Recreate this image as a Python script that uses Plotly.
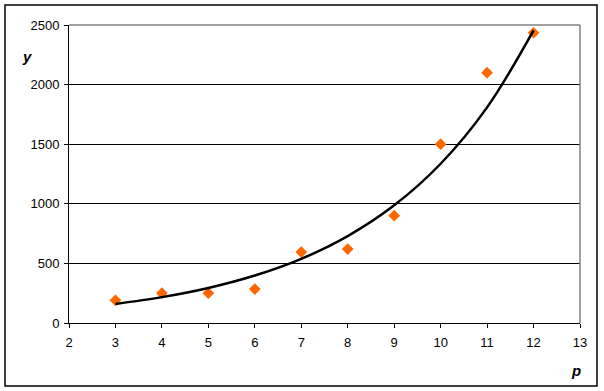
import plotly.graph_objects as go

# Data
p_values = [3, 4, 5, 6, 7, 8, 9, 10, 11, 12]
y_values = [190, 250, 250, 285, 595, 620, 900, 1500, 2100, 2435]
# Trend line values at each p
trend_values = [160, 217, 294, 398, 538, 729, 987, 1336, 1809, 2455]

x_ticks = [2, 3, 4, 5, 6, 7, 8, 9, 10, 11, 12, 13]
y_ticks = [0, 500, 1000, 1500, 2000, 2500]

FONT = "Liberation Sans, Arial, sans-serif"

fig = go.Figure()
fig.add_trace(go.Scatter(
    x=p_values, y=y_values, mode="markers",
    marker=dict(symbol="diamond", size=9, color="#FF6600", line=dict(width=0)),
    showlegend=False, hoverinfo="skip",
))
fig.add_trace(go.Scatter(
    x=p_values, y=trend_values, mode="lines",
    line=dict(color="black", width=2.5, shape="spline"),
    showlegend=False, hoverinfo="skip",
))

L, R, T, B = 69, 24, 25, 68
W, H = 604, 391
pw, ph = W - L - R, H - T - B

def px_x(px):
    return (px - L) / pw

def px_y(py):
    return (H - B - py) / ph

fig.update_layout(
    width=W, height=H,
    margin=dict(l=L, r=R, t=T, b=B),
    paper_bgcolor="white", plot_bgcolor="white",
    font=dict(family=FONT, size=13, color="black"),
    xaxis=dict(
        range=[2, 13], tickvals=x_ticks, ticktext=[str(v) for v in x_ticks],
        showgrid=False, zeroline=False,
        showline=True, linecolor="black", linewidth=1,
        ticks="outside", ticklen=4, tickcolor="black", tickwidth=1,
        ticklabelstandoff=3,
        tickfont=dict(family=FONT, size=13, color="black"),
    ),
    yaxis=dict(
        range=[0, 2500], tickvals=y_ticks, ticktext=[str(v) for v in y_ticks],
        showgrid=True, gridcolor="black", gridwidth=1,
        zeroline=False,
        showline=True, linecolor="black", linewidth=1,
        ticks="outside", ticklen=4, tickcolor="black", tickwidth=1,
        ticklabelstandoff=2,
        tickfont=dict(family=FONT, size=13, color="black"),
    ),
    shapes=[
        dict(type="line", xref="paper", yref="paper", x0=0, x1=1, y0=1, y1=1,
             line=dict(color="#808080", width=1.5), layer="above"),
        dict(type="line", xref="paper", yref="paper", x0=1, x1=1, y0=0, y1=1,
             line=dict(color="#808080", width=1.5), layer="above"),
        dict(type="rect", xref="paper", yref="paper",
             x0=px_x(5), x1=px_x(597), y0=px_y(386), y1=px_y(5),
             line=dict(color="black", width=1.5), fillcolor="rgba(0,0,0,0)",
             layer="above"),
    ],
    annotations=[
        dict(text="<b><i>y</i></b>", xref="paper", yref="paper",
             x=px_x(27), y=px_y(57), showarrow=False,
             font=dict(family=FONT, size=15, color="black"),
             xanchor="center", yanchor="middle"),
        dict(text="<b><i>p</i></b>", xref="paper", yref="paper",
             x=px_x(576), y=px_y(370), showarrow=False,
             font=dict(family=FONT, size=15, color="black"),
             xanchor="center", yanchor="middle"),
    ],
)

fig.write_html(
    "out.html",
    config={"displayModeBar": False},
    post_script="document.body.style.margin='0';document.body.style.overflow='hidden';",
)
